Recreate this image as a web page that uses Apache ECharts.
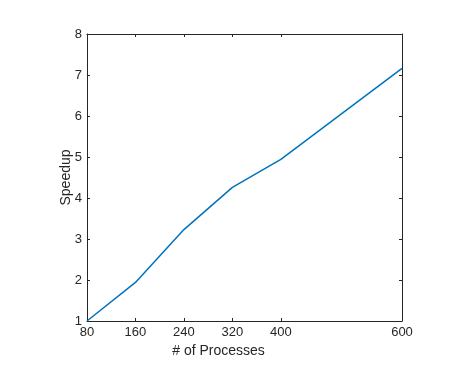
<!DOCTYPE html>
<html>
<head>
<meta charset="utf-8">
<script src="https://cdn.jsdelivr.net/npm/echarts@6/dist/echarts.min.js"></script>
<style>
  html, body { margin: 0; padding: 0; background: #fff; }
  #chart { width: 459px; height: 371px; }
</style>
</head>
<body>
<div id="chart"></div>
<script>
var processes = [80, 160, 240, 320, 400, 600];
var speedup = [1, 1.94, 3.23, 4.26, 4.94, 7.16];
var xTicks = [80, 160, 240, 320, 400, 600];

var font = 'Liberation Sans, Arial, sans-serif';
var axisColor = '#262626';

var chart = echarts.init(document.getElementById('chart'));

function sideAxis(pos) {
    return {
        type: 'value',
        position: pos,
        min: 80, max: 600,
        axisLine: { show: true, lineStyle: { color: axisColor, width: 1 } },
        axisTick: { show: true, inside: true, length: 3, customValues: xTicks, lineStyle: { color: axisColor } },
        axisLabel: { show: false },
        splitLine: { show: false }
    };
}

chart.setOption({
    animation: false,
    grid: { left: 87, top: 34, width: 315, height: 287 },
    xAxis: [
        {
            type: 'value',
            position: 'bottom',
            min: 80, max: 600,
            name: '# of Processes',
            nameLocation: 'middle',
            nameGap: 15,
            nameTextStyle: { color: axisColor, fontFamily: font, fontSize: 14, padding: [0, 52, 0, 0] },
            axisLine: { show: true, onZero: false, lineStyle: { color: axisColor, width: 1 } },
            axisTick: { show: true, inside: true, length: 3, customValues: xTicks, lineStyle: { color: axisColor } },
            axisLabel: { customValues: xTicks, color: axisColor, fontFamily: font, fontSize: 13, margin: 5 },
            splitLine: { show: false }
        },
        sideAxis('top')
    ],
    yAxis: [
        {
            type: 'value',
            position: 'left',
            min: 1, max: 8, interval: 1,
            name: 'Speedup',
            nameLocation: 'middle',
            nameGap: 14,
            nameMoveOverlap: false,
            nameTextStyle: { color: axisColor, fontFamily: font, fontSize: 14 },
            axisLine: { show: true, onZero: false, lineStyle: { color: axisColor, width: 1 } },
            axisTick: { show: true, inside: true, length: 3, lineStyle: { color: axisColor } },
            axisLabel: { color: axisColor, fontFamily: font, fontSize: 13, margin: 5 },
            splitLine: { show: false }
        },
        {
            type: 'value',
            position: 'right',
            min: 1, max: 8, interval: 1,
            axisLine: { show: true, lineStyle: { color: axisColor, width: 1 } },
            axisTick: { show: true, inside: true, length: 3, lineStyle: { color: axisColor } },
            axisLabel: { show: false },
            splitLine: { show: false }
        }
    ],
    series: [{
        type: 'line',
        data: processes.map(function (p, i) { return [p, speedup[i]]; }),
        showSymbol: false,
        lineStyle: { color: '#0072BD', width: 1.5 }
    }]
});
</script>
</body>
</html>
